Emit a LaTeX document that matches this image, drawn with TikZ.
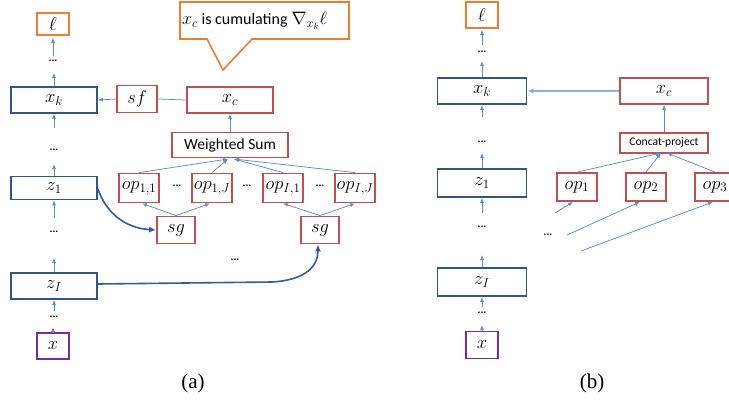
\documentclass[tikz,border=0pt]{standalone}
\usepackage{fix-cm}
\usepackage{fontspec}
\setmainfont{Liberation Serif}
\newfontfamily\carl{Carlito}
\usetikzlibrary{arrows.meta,calc}
\definecolor{boxblue}{RGB}{47,85,140}
\definecolor{boxred}{RGB}{192,80,77}
\definecolor{boxorange}{RGB}{237,125,49}
\definecolor{boxpurple}{RGB}{112,48,160}
\definecolor{arrblue}{RGB}{91,141,210}
\definecolor{curveblue}{RGB}{52,92,150}
\newcommand\mfont{\fontsize{18.5}{21}\selectfont}
\tikzset{
  bx/.style={draw, line width=1.8pt, inner sep=0pt, fill=white, font=\mfont},
  bluebox/.style={bx, draw=boxblue, minimum width=86pt, minimum height=26pt},
  redbox/.style={bx, draw=boxred},
  opbox/.style={redbox, minimum width=40pt, minimum height=29pt},
  sgbox/.style={redbox, minimum width=38pt, minimum height=27pt},
  smallbox/.style={bx, minimum width=32pt, minimum height=24pt},
  arr/.style={draw=arrblue, line width=0.75pt, -{Latex[length=5pt,width=4pt]}},
  ln/.style={draw=arrblue, line width=0.75pt},
  curv/.style={draw=curveblue, line width=1.6pt, -{Latex[length=7pt,width=6pt]}},
  dotsn/.style={font=\carl\bfseries\fontsize{11}{12}\selectfont, inner sep=0pt},
  txt/.style={font=\carl\fontsize{16}{18}\selectfont},
  capt/.style={font=\fontsize{21}{24}\selectfont, inner sep=0pt}
}
\begin{document}
\begin{tikzpicture}[x=1pt,y=-1pt]
\useasboundingbox (0,0) rectangle (729,402);
\clip (0,0) rectangle (729,402);
\fill[white] (0,0) rectangle (729,402);

% ---------------- panel (a) ----------------
\node[smallbox, draw=boxorange, minimum height=22pt] (la) at (53,24) {$\ell$};
\node[dotsn] (da1) at (53,61) {...};
\node[bluebox] (xka) at (54,100) {$x_k$};
\node[dotsn] (da2) at (54,150) {...};
\node[bluebox, minimum height=23pt] (z1a) at (54,188) {$z_1$};
\node[dotsn] (da3) at (54,232) {...};
\node[bluebox] (zIa) at (54,286) {$z_I$};
\node[dotsn] (da4) at (54,317) {...};
\node[smallbox, draw=boxpurple, minimum height=26pt] (xa) at (53,346) {$x$};

\coordinate (a1) at (53,56);
\coordinate (a2) at (54,73);
\coordinate (a3) at (54,128);
\coordinate (a4) at (54,164);
\coordinate (a5) at (54,218);
\coordinate (a6) at (54,258);
\coordinate (a7) at (54,311);
\coordinate (a8) at (53,327);
\draw[arr] (a1) -- ([yshift=-2pt]la.south);
\draw[arr] (xka.north) -- (a2);
\draw[arr] (a3) -- (xka.south);
\draw[arr] (z1a.north) -- (a4);
\draw[arr] (a5) -- (z1a.south);
\draw[arr] (zIa.north) -- (a6);
\draw[arr] (a7) -- (zIa.south);
\draw[arr] (xa.north) -- (a8);

\node[redbox, minimum width=40pt, minimum height=27pt] (sf) at (137,99) {$sf$};
\node[redbox, minimum width=86pt, minimum height=26pt] (xca) at (230,100) {$x_c$};
\draw[ln] (xca.west) -- (sf.east);
\draw[arr] (sf.west) -- (xka.east);

\node[redbox, minimum width=116pt, minimum height=25pt, font=\carl\fontsize{15.5}{18}\selectfont] (ws) at (230,145) {Weighted Sum};
\draw[arr] (ws.north) -- (xca.south);

\node[opbox] (op11) at (139,188) {$op_{1,1}$};
\node[opbox] (op1J) at (212,188) {$op_{1,J}$};
\node[opbox] (opI1) at (283,188) {$op_{I,1}$};
\node[opbox] (opIJ) at (355,188) {$op_{I,J}$};
\node[dotsn] at (177,186) {...};
\node[dotsn] at (247,186) {...};
\node[dotsn] at (320,186) {...};

\coordinate (wsL) at (228,159);
\coordinate (wsR) at (234,159);
\draw[arr] (op11.north) -- (wsL);
\draw[arr] (op1J.north) -- (wsL);
\draw[arr] (opI1.north) -- (wsR);
\draw[arr] (opIJ.north) -- (wsR);

\node[sgbox] (sg1) at (176,230) {$sg$};
\node[sgbox] (sg2) at (320,230) {$sg$};
\draw[arr] (sg1.north) -- ($(op11.south)+(3,0)$);
\draw[arr] (sg1.north) -- ($(op1J.south)+(-2,0)$);
\draw[arr] (sg2.north) -- (opI1.south);
\draw[arr] (sg2.north) -- (opIJ.south);

\node[dotsn] at (235,260) {...};

\draw[curv] ($(z1a.east)+(0,1)$) .. controls (106,212) and (124,228) .. (sg1.west);
\coordinate (cz) at (272,282);
\draw[curv] ($(zIa.east)+(0,-2)$) -- (cz) .. controls (306,280) and (318,266) .. ($(sg2.south)+(-2,0)$);

% callout
\draw[boxorange, line width=1.6pt, fill=white, line join=miter]
  (180,2) -- (349,2) -- (349,39) -- (252,39) -- (223,70) -- (207,39) -- (180,39) -- cycle;
\node[txt, anchor=west, inner sep=0pt] (callout) at (182,21) {\fontsize{18}{20}\selectfont$x_c$\fontsize{16}{18}\selectfont{} is cumulating\fontsize{18}{20}\selectfont{} $\nabla_{x_k}\ell$};

\node[capt] (capa) at (193,383) {(a)};

% ---------------- panel (b) ----------------
\node[smallbox, draw=boxorange, minimum height=26pt] (lb) at (482,15) {$\ell$};
\node[dotsn] (db1) at (482,52) {...};
\node[bluebox, minimum width=89pt] (xkb) at (482,91) {$x_k$};
\node[redbox, minimum width=88pt, minimum height=26pt] (xcb) at (664,91) {$x_c$};
\node[redbox, minimum width=88pt, minimum height=20pt, font=\carl\fontsize{11.6}{13}\selectfont] (cp) at (664,143) {Concat-project};
\node[dotsn] (db2) at (482,142) {...};
\node[bluebox, minimum width=89pt, minimum height=28pt] (z1b) at (482,183) {$z_1$};
\node[dotsn] (db3) at (482,227) {...};
\node[bluebox, minimum width=89pt, minimum height=28pt] (zIb) at (482,282) {$z_I$};
\node[dotsn] (db4) at (482,313) {...};
\node[smallbox, draw=boxpurple, minimum height=27pt] (xb) at (482,345) {$x$};

\coordinate (b1) at (482,45);
\coordinate (b2) at (482,61);
\coordinate (b3) at (482,117);
\coordinate (b4) at (482,153);
\coordinate (b5) at (482,213);
\coordinate (b6) at (482,255);
\coordinate (b7) at (482,307);
\coordinate (b8) at (482,325);
\draw[arr] (b1) -- ([yshift=-1pt]lb.south);
\draw[arr] (xkb.north) -- (b2);
\draw[arr] (b3) -- (xkb.south);
\draw[arr] (z1b.north) -- (b4);
\draw[arr] (b5) -- (z1b.south);
\draw[arr] (zIb.north) -- (b6);
\draw[arr] (b7) -- (zIb.south);
\draw[arr] (xb.north) -- (b8);

\draw[draw=arrblue!70, line width=1.6pt, -{Latex[length=6pt,width=5pt]}] (xcb.west) -- (xkb.east);
\draw[arr] (cp.north) -- (xcb.south);

\node[opbox, minimum height=28pt] (op1) at (577,187) {$op_1$};
\node[opbox, minimum height=28pt] (op2) at (646,187) {$op_2$};
\node[opbox, minimum height=28pt] (op3) at (715,187) {$op_3$};
\coordinate (cpL) at (661,153);
\coordinate (cpR) at (667,153);
\draw[arr] (op1.north) -- (cpL);
\draw[arr] (op2.north) -- (cpL);
\draw[arr] (op3.north) -- (cpR);

\node[dotsn] at (548,235) {...};
\coordinate (s1) at (555,213);
\coordinate (s2) at (567,235);
\coordinate (s3) at (581,251);
\draw[arr] (s1) -- ($(op1.south)+(-4,0)$);
\draw[arr] (s2) -- ($(op2.south)+(-6,0)$);
\draw[arr] (s3) -- ($(op3.south)+(-2,0)$);

\node[capt] (capb) at (592,383) {(b)};
\end{tikzpicture}
\end{document}
